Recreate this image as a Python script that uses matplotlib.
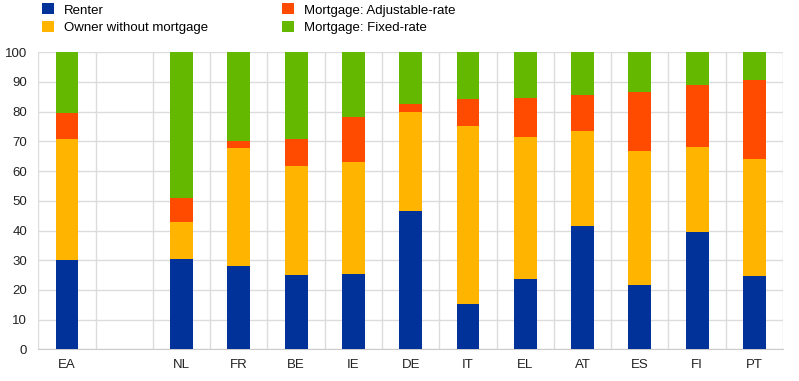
import matplotlib

matplotlib.use("Agg")

import matplotlib.pyplot as plt
import numpy as np

countries = ["EA", "NL", "FR", "BE", "IE", "DE", "IT", "EL", "AT", "ES", "FI", "PT"]
renter = [30.0, 30.4, 28.0, 25.1, 25.5, 46.5, 15.4, 23.7, 41.5, 21.7, 39.4, 24.8]
owner_no_mortgage = [40.8, 12.5, 39.9, 36.7, 37.6, 33.4, 59.9, 47.9, 32.0, 45.1, 28.8, 39.4]
mortgage_adjustable = [8.7, 8.1, 2.2, 9.0, 15.2, 2.6, 9.0, 13.1, 12.0, 19.7, 20.7, 26.4]
mortgage_fixed = [20.5, 49.0, 29.9, 29.2, 21.7, 17.5, 15.7, 15.3, 14.5, 13.5, 11.1, 9.4]

series = [
    ("Renter", renter, "#003299"),
    ("Owner without mortgage", owner_no_mortgage, "#FFB400"),
    ("Mortgage: Adjustable-rate", mortgage_adjustable, "#FF4B00"),
    ("Mortgage: Fixed-rate", mortgage_fixed, "#65B800"),
]

plt.rcParams["font.family"] = ["Liberation Sans", "DejaVu Sans"]

# leave one empty slot between the euro area and the countries
x = np.arange(len(countries), dtype=float)
x[1:] += 1
n_slots = len(countries) + 1

fig = plt.figure(figsize=(7.99, 3.81), dpi=100)
ax = fig.add_axes([0.048, 0.083, 0.932, 0.78])

bottom = np.zeros(len(countries))
for label, values, color in series:
    vals = np.array(values)
    ax.bar(x, vals, width=0.4, bottom=bottom, color=color, label=label, zorder=3)
    bottom += vals

ax.set_xlim(-0.5, n_slots - 0.5)
ax.set_ylim(0, 100)
ax.set_yticks(np.arange(0, 101, 10))
ax.set_xticks(x)
ax.set_xticklabels(countries)
ax.set_xticks(np.arange(-0.5, n_slots, 1.0), minor=True)
ax.grid(axis="y", color="#dcdcdc", linewidth=1, zorder=0)
ax.grid(axis="x", which="minor", color="#dcdcdc", linewidth=1, zorder=0)
ax.tick_params(axis="both", which="both", length=0, labelsize=9.5, colors="#222222")
ax.tick_params(axis="x", pad=7)
ax.tick_params(axis="y", pad=8)
for side in ["top", "right", "left"]:
    ax.spines[side].set_visible(False)
ax.spines["bottom"].set_color("#cccccc")

fig.legend(
    loc="upper left",
    bbox_to_anchor=(0.038, 1.022),
    ncol=2,
    frameon=False,
    fontsize=9.5,
    handlelength=0.9,
    handleheight=0.9,
    handletextpad=0.75,
    columnspacing=5.6,
    labelspacing=0.35,
)

fig.savefig("out.png", dpi=100)
plt.close(fig)
